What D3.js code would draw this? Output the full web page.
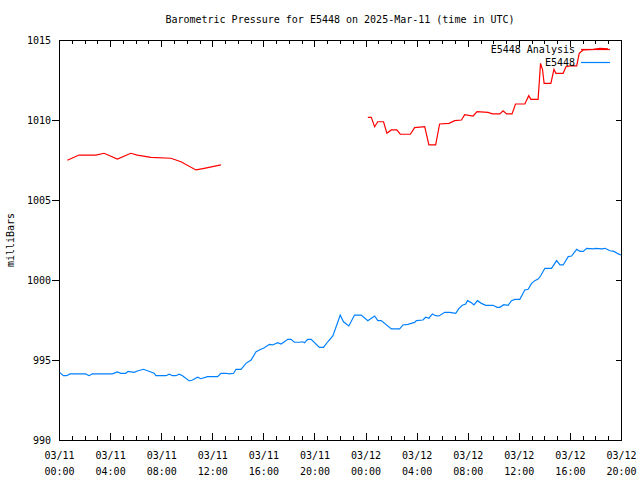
<!DOCTYPE html>
<html>
<head>
<meta charset="utf-8">
<script src="https://cdn.jsdelivr.net/npm/d3@7"></script>
<style>
  body { margin: 0; background: #fff; }
  svg text { font-family: "DejaVu Sans Mono", "Liberation Mono", monospace; font-size: 10px; fill: #000; }
</style>
</head>
<body>
<svg id="chart" width="640" height="480"></svg>
<script>
// hours since 2025-03-11 00:00 UTC, pressure in mb (null = gap in the analysis)
var analysisHours = [0.65, 1.57, 2.88, 3.53, 4.57, 5.62, 6.14, 7.19, 8.76, 9.55, 10.72, 11.37, 12.68,
    18.0,
    24.18, 24.45, 24.71, 24.96, 25.41, 25.67, 26.02, 26.45, 26.72, 27.51, 27.84, 28.63, 28.96, 29.49,
    29.80, 30.53, 30.98, 31.51, 31.76, 32.42, 32.73, 33.59, 33.94, 34.51, 34.77, 35.04, 35.47, 35.74,
    36.47, 36.78, 36.94, 37.51, 37.70, 37.86, 37.98, 38.51, 38.75, 38.90, 39.47, 39.69, 40.00, 40.53,
    40.73, 41.04, 41.83, 42.35, 42.98];
var analysisValues = [1007.48, 1007.81, 1007.81, 1007.92, 1007.56, 1007.92, 1007.81, 1007.67, 1007.61, 1007.39, 1006.88, 1006.98, 1007.19,
    null,
    1010.17, 1010.17, 1009.58, 1009.89, 1009.89, 1009.17, 1009.38, 1009.38, 1009.11, 1009.11, 1009.52, 1009.58, 1008.44, 1008.44,
    1009.75, 1009.79, 1009.96, 1010.00, 1010.33, 1010.25, 1010.52, 1010.48, 1010.38, 1010.38, 1010.58, 1010.38, 1010.38, 1011.00,
    1011.00, 1011.52, 1011.29, 1011.29, 1013.54, 1013.13, 1012.29, 1012.29, 1013.17, 1012.92, 1012.92, 1013.33, 1013.38, 1013.38,
    1014.17, 1014.38, 1014.42, 1014.48, 1014.44];

var stationHours = [0.08, 0.34, 0.60, 0.86, 2.09, 2.35, 2.61, 4.18, 4.57, 4.84, 5.23, 5.41, 5.88, 6.14, 6.61, 6.93,
    7.45, 7.58, 8.37, 8.63, 8.89, 9.15, 9.41, 9.67, 10.20, 10.45, 10.85, 11.11, 11.63, 12.42, 12.68, 13.07,
    13.33, 13.67, 13.86, 14.25, 14.64, 15.04, 15.43, 15.69, 16.08, 16.47, 16.73, 17.12, 17.39, 17.91, 18.17,
    18.43, 18.82, 19.08, 19.22, 19.47, 19.74, 20.39, 20.71, 21.04, 21.44, 22.02, 22.27, 22.69, 23.14, 23.66,
    24.18, 24.71, 24.96, 25.23, 26.02, 26.67, 26.93, 27.32, 27.58, 27.84, 27.98, 28.49, 28.71, 28.96, 29.23,
    29.49, 29.75, 30.20, 30.59, 31.06, 31.32, 31.58, 31.84, 31.98, 32.29, 32.49, 32.76, 33.07, 33.41, 33.98,
    34.30, 34.51, 34.82, 35.16, 35.43, 35.69, 36.08, 36.47, 36.73, 37.00, 37.25, 37.51, 37.70, 38.04, 38.56,
    38.96, 39.22, 39.47, 39.87, 40.13, 40.53, 40.78, 41.04, 41.31, 41.83, 41.96, 42.49, 42.75, 43.14, 43.45,
    43.79, 44.00];
var stationValues = [994.21, 994.02, 994.02, 994.13, 994.13, 994.02, 994.13, 994.13, 994.25, 994.17, 994.17, 994.29, 994.23, 994.31, 994.42, 994.33,
    994.17, 994.02, 994.02, 994.11, 994.02, 994.02, 994.11, 994.02, 993.69, 993.75, 993.92, 993.83, 993.96, 993.96, 994.17, 994.17,
    994.13, 994.17, 994.42, 994.42, 994.79, 995.00, 995.52, 995.63, 995.77, 995.98, 995.94, 996.08, 996.00, 996.29, 996.29,
    996.11, 996.11, 996.14, 996.08, 996.29, 996.29, 995.79, 995.79, 996.14, 996.50, 997.81, 997.39, 997.13, 997.81, 997.81,
    997.46, 997.75, 997.46, 997.46, 996.94, 996.94, 997.19, 997.23, 997.29, 997.35, 997.46, 997.50, 997.67, 997.61, 997.88,
    997.77, 997.75, 997.98, 997.98, 997.92, 998.23, 998.42, 998.50, 998.71, 998.58, 998.44, 998.71, 998.54, 998.42, 998.42,
    998.29, 998.29, 998.46, 998.42, 998.71, 998.79, 998.79, 999.38, 999.42, 999.79, 999.96, 1000.06, 1000.25, 1000.73, 1000.73,
    1001.21, 1000.94, 1000.94, 1001.46, 1001.50, 1001.92, 1001.79, 1001.79, 1001.98, 1001.94, 1001.98, 1001.94, 1001.98, 1001.83, 1001.79,
    1001.63, 1001.56];

var yTicks = [990, 995, 1000, 1005, 1010, 1015];
var seriesNames = ["E5448 Analysis", "E5448"];
var seriesColors = ["#ff0000", "#0080ff"];

var start = Date.UTC(2025, 2, 11, 0);
function toDate(h) { return new Date(start + h * 3600e3); }

var svg = d3.select("#chart"),
    plotL = 59, plotR = 621, plotT = 40, plotB = 440;

var x = d3.scaleUtc().domain([toDate(0), toDate(44)]).range([plotL, plotR]);
var y = d3.scaleLinear().domain([990, 1015]).range([plotB, plotT]);

var minorTicks = d3.range(0, 45).map(toDate);
var majorTicks = d3.range(0, 45, 4).map(toDate);
var fmtDay = d3.utcFormat("%m/%d"), fmtHour = d3.utcFormat("%H:%M");

// title and y label
svg.append("text").attr("x", 340).attr("y", 23).attr("text-anchor", "middle")
    .text("Barometric Pressure for E5448 on 2025-Mar-11 (time in UTC)");
svg.append("text").attr("transform", "translate(14,240) rotate(-90)").attr("text-anchor", "middle")
    .text("milliBars");

function clean(g) {
    g.attr("font-family", null).attr("font-size", null);
    g.select(".domain").remove();
    g.selectAll("line").attr("stroke", "#000").attr("shape-rendering", "crispEdges");
}

// bottom axis: hourly minor ticks, 4-hourly labelled ticks
svg.append("g").attr("transform", "translate(0," + plotB + ")")
    .call(d3.axisBottom(x).tickValues(minorTicks).tickSize(-4).tickFormat(""))
    .call(clean);
var bx = svg.append("g").attr("transform", "translate(0," + plotB + ")")
    .call(d3.axisBottom(x).tickValues(majorTicks).tickSize(-7).tickFormat(""))
    .call(clean);
bx.selectAll(".tick text").remove();
bx.selectAll(".tick").each(function(d) {
    var t = d3.select(this).append("text").attr("text-anchor", "middle");
    t.append("tspan").attr("x", 0).attr("y", 19).text(fmtDay(d));
    t.append("tspan").attr("x", 0).attr("y", 35).text(fmtHour(d));
});

// top axis mirror
svg.append("g").attr("transform", "translate(0," + plotT + ")")
    .call(d3.axisTop(x).tickValues(minorTicks).tickSize(-4).tickFormat(""))
    .call(clean);
svg.append("g").attr("transform", "translate(0," + plotT + ")")
    .call(d3.axisTop(x).tickValues(majorTicks).tickSize(-7).tickFormat(""))
    .call(clean);

// left axis
var ly = svg.append("g").attr("transform", "translate(" + plotL + ",0)")
    .call(d3.axisLeft(y).tickValues(yTicks).tickSize(7).tickPadding(1).tickFormat(d3.format("d")))
    .call(clean);
ly.selectAll(".tick").filter(function(d) { return d == 990 || d == 1015; }).select("line").remove();
ly.selectAll("text").attr("fill", "#000");

// right axis mirror
svg.append("g").attr("transform", "translate(" + plotR + ",0)")
    .call(d3.axisRight(y).tickValues(yTicks).tickSize(-5).tickFormat(""))
    .call(clean);

// plot border
svg.append("rect").attr("x", plotL).attr("y", plotT).attr("width", plotR - plotL).attr("height", plotB - plotT)
    .attr("fill", "none").attr("stroke", "#000").attr("shape-rendering", "crispEdges");

var line = d3.line()
    .defined(function(d) { return d.v != null; })
    .x(function(d) { return x(toDate(d.h)); })
    .y(function(d) { return y(d.v); });

var analysis = analysisHours.map(function(h, i) { return {h: h, v: analysisValues[i]}; });
var station = stationHours.map(function(h, i) { return {h: h, v: stationValues[i]}; });

svg.append("path").datum(station).attr("d", line)
    .attr("fill", "none").attr("stroke", seriesColors[1]).attr("stroke-width", 1.2);
svg.append("path").datum(analysis).attr("d", line)
    .attr("fill", "none").attr("stroke", seriesColors[0]).attr("stroke-width", 1.2);

// legend
var legend = svg.append("g");
seriesNames.forEach(function(name, i) {
    var ly0 = 49 + i * 13;
    legend.append("text").attr("x", 575).attr("y", ly0 + 3.5).attr("text-anchor", "end").text(name);
    legend.append("line").attr("x1", 581).attr("x2", 610).attr("y1", ly0 + 0.5).attr("y2", ly0 + 0.5)
        .attr("stroke", seriesColors[i]).attr("stroke-width", 1.2);
});
</script>
</body>
</html>
